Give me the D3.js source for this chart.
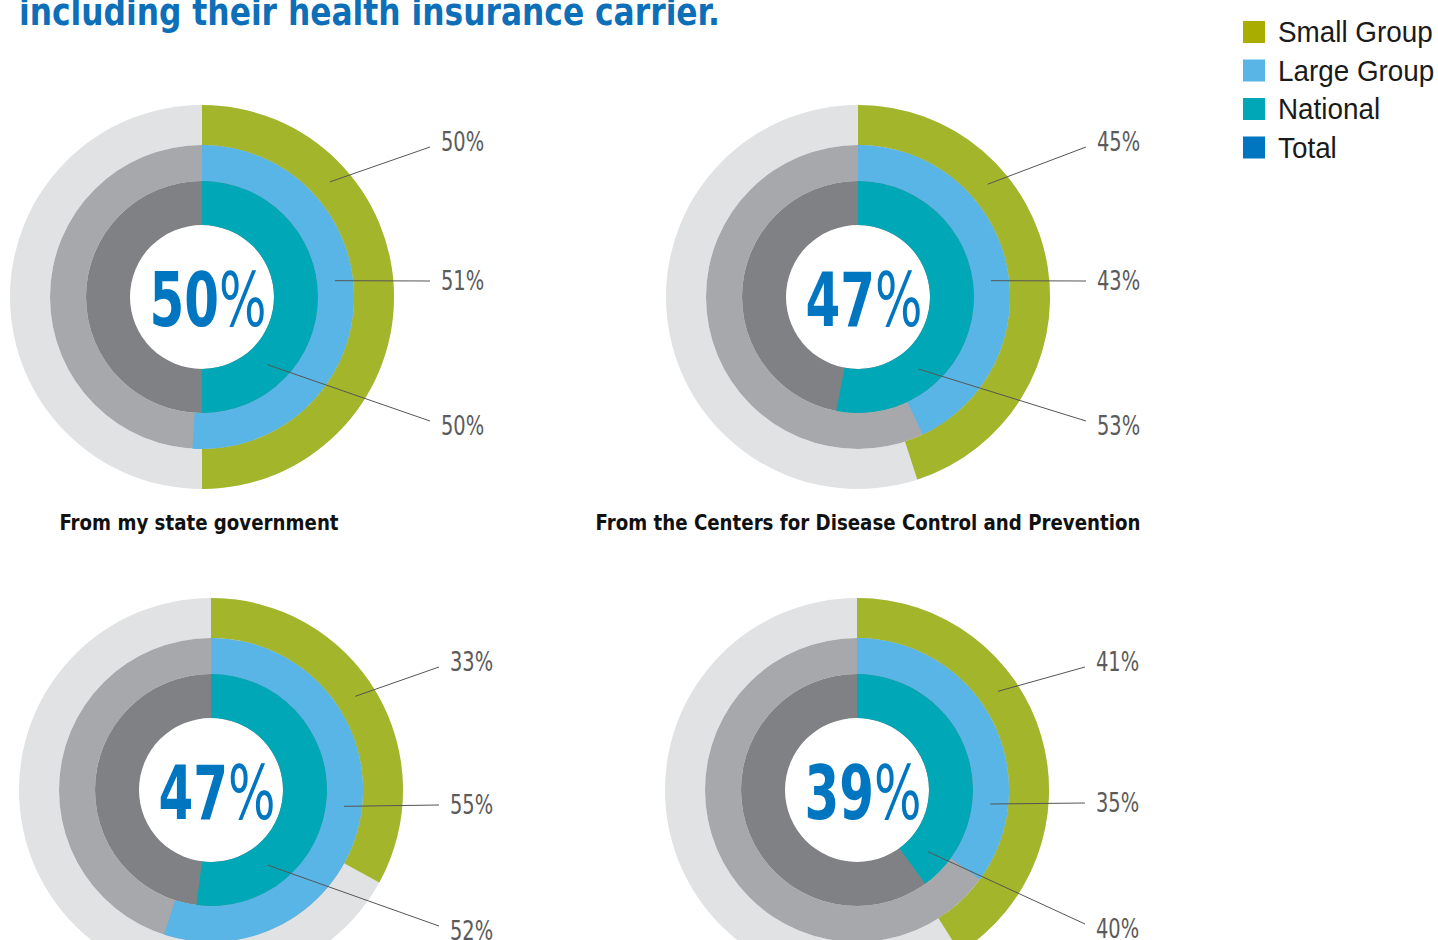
<!DOCTYPE html>
<html>
<head>
<meta charset="utf-8">
<script src="https://cdn.jsdelivr.net/npm/d3@7"></script>
<style>
  body { margin: 0; background: #fff; }
  svg { display: block; }
  .cond { font-family: "DejaVu Sans Condensed", "DejaVu Sans", sans-serif; font-stretch: condensed; }
  .legend-label { font-family: "Liberation Sans", "Noto Sans", sans-serif; font-size: 29px; fill: #1a1a1a; }
</style>
</head>
<body>
<div id="chart"></div>
<script>
// data
const seriesNames = ["Small Group", "Large Group", "National", "Total"];
const sources = [
  "From my state government",
  "From the Centers for Disease Control and Prevention",
  null,
  null,
];
const smallGroup = [50, 45, 33, 41];
const largeGroup = [51, 43, 55, 35];
const national = [50, 53, 52, 40];
const total = [50, 47, 47, 39];
const titleText = "including their health insurance carrier.";

const width = 1438;
const height = 940;

const legendColors = ["#a8ad00", "#58b5e6", "#00a8b7", "#0076c0"];
const ringColors = ["#a3b52a", "#58b5e6", "#00a8b7"];
const trackColors = ["#e1e2e3", "#a7a8ab", "#808184"];
const rings = [
  [152, 192],
  [116, 152],
  [72, 116],
];

// layout of the four donuts
const centers = [
  [202, 297],
  [858, 297],
  [211, 790],
  [857, 790],
];
const leaderAngles = [
  [48, 83, 136],
  [49, 83, 140],
  [57, 97, 143],
  [55, 96, 131],
];
const labelDy = [
  [-156, -17, 128],
  [-156, -17, 128],
  [-129, 14, 140],
  [-129, 12, 138],
];

const charts = sources.map((s, i) => ({
  source: s,
  values: [smallGroup[i], largeGroup[i], national[i]],
  total: total[i],
  center: centers[i],
}));

const angle = d3.scaleLinear().domain([0, 100]).range([0, Math.PI * 2]);
const arc = d3.arc();

// squeeze text horizontally so the fallback font matches the narrow original
function squeeze(text, factor) {
  text.each(function () {
    const w = this.getComputedTextLength();
    d3.select(this)
      .attr("textLength", w * factor)
      .attr("lengthAdjust", "spacingAndGlyphs");
  });
}

const svg = d3
  .select("#chart")
  .append("svg")
  .attr("width", width)
  .attr("height", height);

svg
  .append("text")
  .attr("class", "cond")
  .attr("x", 19)
  .attr("y", 25)
  .attr("font-size", 38)
  .attr("font-weight", "bold")
  .attr("fill", "#0d6fb8")
  .attr("textLength", 701)
  .attr("lengthAdjust", "spacingAndGlyphs")
  .text(titleText);

const gChart = svg
  .selectAll(".donut")
  .data(charts)
  .join("g")
  .attr("class", "donut")
  .attr("transform", (d) => `translate(${d.center[0]},${d.center[1]})`);

// grey tracks
gChart
  .selectAll(".track")
  .data(rings.map((r, i) => ({ r, color: trackColors[i] })))
  .join("path")
  .attr("class", "track")
  .attr("fill", (d) => d.color)
  .attr("d", (d) =>
    arc({ innerRadius: d.r[0], outerRadius: d.r[1], startAngle: 0, endAngle: Math.PI * 2 })
  );

// coloured arcs
gChart
  .selectAll(".value-arc")
  .data((d) => d.values.map((v, i) => ({ v, r: rings[i], color: ringColors[i] })))
  .join("path")
  .attr("class", "value-arc")
  .attr("fill", (d) => d.color)
  .attr("d", (d) =>
    arc({ innerRadius: d.r[0], outerRadius: d.r[1], startAngle: 0, endAngle: angle(d.v) })
  );

// leader lines and value labels
const labelX = 239;
const lineEndX = 228;
const endShift = [6, 1, -4];
gChart.each(function (d, ci) {
  const g = d3.select(this);
  d.values.forEach((v, i) => {
    const a = (leaderAngles[ci][i] * Math.PI) / 180;
    const rm = (rings[i][0] + rings[i][1]) / 2;
    const ly = labelDy[ci][i];
    g.append("line")
      .attr("x1", rm * Math.sin(a))
      .attr("y1", -rm * Math.cos(a))
      .attr("x2", lineEndX)
      .attr("y2", ly + endShift[i])
      .attr("stroke", "#555")
      .attr("stroke-width", 1);
    g.append("text")
      .attr("class", "cond value-label")
      .attr("x", labelX)
      .attr("y", ly)
      .attr("dy", "0.36em")
      .attr("font-size", 27)
      .attr("fill", "#5b5b5b")
      .text(`${v}%`);
  });

  const t = g
    .append("text")
    .attr("class", "cond total-label")
    .attr("x", 6)
    .attr("y", 29)
    .attr("text-anchor", "middle")
    .attr("font-size", 75)
    .attr("fill", "#0076c0");
  t.append("tspan").attr("font-weight", "bold").text(d.total);
  t.append("tspan").attr("font-weight", "normal").text("%");

  if (d.source) {
    g.append("text")
      .attr("class", "cond source-label")
      .attr("x", ci === 0 ? -3 : 10)
      .attr("y", 233)
      .attr("text-anchor", "middle")
      .attr("font-size", 22)
      .attr("font-weight", "bold")
      .attr("fill", "#111")
      .text(d.source);
  }
});

svg.selectAll(".value-label").call(squeeze, 0.8);
svg.selectAll(".total-label").call(squeeze, 0.74);
svg.selectAll(".source-label").call(squeeze, 0.92);

// legend
const legend = svg
  .append("g")
  .attr("transform", "translate(1243,21)")
  .selectAll("g")
  .data(seriesNames)
  .join("g")
  .attr("transform", (d, i) => `translate(0,${i * 38.5})`);
legend
  .append("rect")
  .attr("width", 22)
  .attr("height", 22)
  .attr("fill", (d, i) => legendColors[i]);
legend
  .append("text")
  .attr("class", "legend-label")
  .attr("x", 35)
  .attr("y", 11)
  .attr("dy", "0.36em")
  .text((d) => d);
svg.selectAll(".legend-label").call(squeeze, 0.96);
</script>
</body>
</html>
